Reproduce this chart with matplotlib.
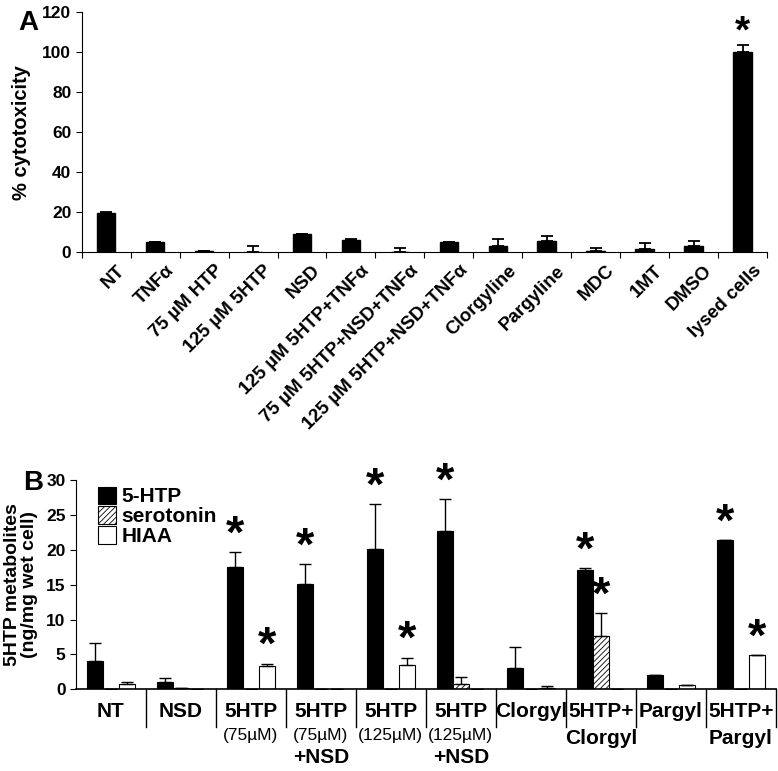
import matplotlib
matplotlib.use("Agg")
import matplotlib.pyplot as plt
import numpy as np

plt.rcParams['font.family'] = ['Liberation Sans', 'DejaVu Sans']
plt.rcParams['font.weight'] = 'bold'
plt.rcParams['hatch.color'] = '0.45'
plt.rcParams['hatch.linewidth'] = 0.6

# panel A data
a_labels = ["NT", "TNF\u03b1", "75 \u00b5M HTP", "125 \u00b5M 5HTP", "NSD",
            "125 \u00b5M 5HTP+TNF\u03b1", "75 \u00b5M 5HTP+NSD+TNF\u03b1",
            "125 \u00b5M 5HTP+NSD+TNF\u03b1", "Clorgyline", "Pargyline",
            "MDC", "1MT", "DMSO", "lysed cells"]
a_vals = [19.5, 4.9, 0.5, 0.0, 9.0, 6.2, 0.0, 5.0, 3.0, 5.4, 0.7, 1.5, 2.9, 100.0]
a_err = [0.5, 0.0, 0.0, 3.0, 0.3, 0.3, 2.2, 0.3, 3.4, 2.5, 1.3, 3.0, 2.5, 3.7]
a_star = [False] * 13 + [True]

# panel B data
b_groups = ["NT", "NSD", "5HTP\n(75\u00b5M)", "5HTP\n(75\u00b5M)\n+NSD", "5HTP\n(125\u00b5M)",
            "5HTP\n(125\u00b5M)\n+NSD", "Clorgyl", "5HTP+\nClorgyl", "Pargyl", "5HTP+\nPargyl"]
b_series = ["5-HTP", "serotonin", "HIAA"]
htp = [4.1, 1.0, 17.5, 15.1, 20.2, 22.7, 3.0, 17.1, 2.0, 21.4]
htp_err = [2.6, 0.6, 2.2, 2.85, 6.4, 4.6, 3.0, 0.3, 0.0, 0.0]
ser = [0.1, 0.15, 0.1, 0.1, 0.1, 0.8, 0.1, 7.7, 0.0, 0.0]
ser_err = [0.0, 0.0, 0.0, 0.0, 0.0, 1.0, 0.0, 3.2, 0.0, 0.0]
hiaa = [0.7, 0.1, 3.4, 0.1, 3.5, 0.1, 0.25, 0.1, 0.6, 4.9]
hiaa_err = [0.35, 0.0, 0.3, 0.0, 1.0, 0.0, 0.25, 0.0, 0.0, 0.0]
htp_star = [False, False, True, True, True, True, False, True, False, True]
ser_star = [False] * 7 + [True, False, False]
hiaa_star = [False, False, True, False, True, False, False, False, False, True]

fig = plt.figure(figsize=(7.78, 7.71), dpi=100)

# ---------- panel A ----------
axA = fig.add_axes([0.105, 0.673, 0.881, 0.311])
x = np.arange(len(a_labels))
axA.bar(x, a_vals, width=0.38, color='black', edgecolor='black')
axA.errorbar(x, a_vals, yerr=[np.zeros(len(x)), a_err], fmt='none',
             ecolor='black', capsize=4, elinewidth=1.3, capthick=1.3)
for i in range(len(x)):
    if a_star[i]:
        axA.text(x[i], a_vals[i] + a_err[i] + 6, "*", ha='center', va='center',
                 fontsize=28, fontweight='bold')
axA.set_xlim(-0.5, len(x) - 0.5)
axA.set_ylim(0, 120)
axA.set_yticks(range(0, 121, 20))
axA.tick_params(axis='y', labelsize=12.5, direction='out', length=4)
axA.set_xticks(np.arange(-0.5, len(x)), minor=False)
axA.set_xticklabels([])
axA.tick_params(axis='x', length=4, direction='out')
for i, lab in enumerate(a_labels):
    axA.text(x[i] + 0.2, -5, lab, rotation=45, ha='right', va='top',
             fontsize=13.5, fontweight='bold', rotation_mode='anchor')
axA.spines['top'].set_visible(False)
axA.spines['right'].set_visible(False)
axA.set_ylabel("% cytotoxicity", fontsize=14.5, fontweight='bold', labelpad=8)
fig.text(0.036, 0.97, "A", fontsize=20, fontweight='bold', ha='center', va='center')

# ---------- panel B ----------
axB = fig.add_axes([0.0977, 0.106, 0.8993, 0.271])
g = np.arange(len(b_groups))
w = 0.23
axB.bar(g - w, htp, width=w, color='black', edgecolor='black', linewidth=0.8, label=b_series[0])
axB.bar(g, ser, width=w, color='white', edgecolor='black', linewidth=0.8, hatch='//////', label=b_series[1])
axB.bar(g + w, hiaa, width=w, color='white', edgecolor='black', linewidth=0.8, label=b_series[2])
for off, vals, errs, stars in [(-w, htp, htp_err, htp_star), (0, ser, ser_err, ser_star),
                               (w, hiaa, hiaa_err, hiaa_star)]:
    pos = g + off
    axB.errorbar(pos, vals, yerr=[np.zeros(len(g)), errs], fmt='none',
                 ecolor='black', capsize=4, elinewidth=1.0, capthick=1.0)
    for i in range(len(g)):
        if stars[i]:
            axB.text(pos[i], vals[i] + errs[i] + 2.4, "*", ha='center', va='center',
                     fontsize=34, fontweight='bold')
axB.set_xlim(-0.5, len(g) - 0.5)
axB.set_ylim(0, 30)
axB.set_yticks(range(0, 31, 5))
axB.tick_params(axis='y', labelsize=12.5, direction='out', length=4)
axB.set_xticks([])
axB.spines['top'].set_visible(False)
axB.spines['right'].set_visible(False)
axB.spines['bottom'].set_linewidth(1.2)
for b in np.arange(0.5, len(g)):
    axB.plot([b, b], [0, -5.4], color='black', lw=1.0, clip_on=False)
for i, lab in enumerate(b_groups):
    lines = lab.split("\n")
    axB.text(g[i], -3.2, lines[0], ha='center', va='center', fontsize=15, fontweight='bold')
    if len(lines) > 1:
        if lines[1].startswith("("):
            axB.text(g[i], -6.6, lines[1], ha='center', va='center', fontsize=12.5, fontweight='normal')
        else:
            axB.text(g[i], -7.1, lines[1], ha='center', va='center', fontsize=15, fontweight='bold')
    if len(lines) > 2:
        axB.text(g[i], -9.8, lines[2], ha='center', va='center', fontsize=15, fontweight='bold')
axB.set_ylabel("5HTP metabolites\n(ng/mg wet cell)", fontsize=14, fontweight='bold',
               labelpad=6, linespacing=0.95)
axB.legend(loc='upper left', bbox_to_anchor=(0.01, 1.04), frameon=False, fontsize=15,
           handlelength=0.9, handleheight=0.9, handletextpad=0.25, labelspacing=0.0,
           borderaxespad=0.3)
fig.text(0.043, 0.374, "B", fontsize=20, fontweight='bold', ha='center', va='center')

fig.savefig("out.png", dpi=100)
